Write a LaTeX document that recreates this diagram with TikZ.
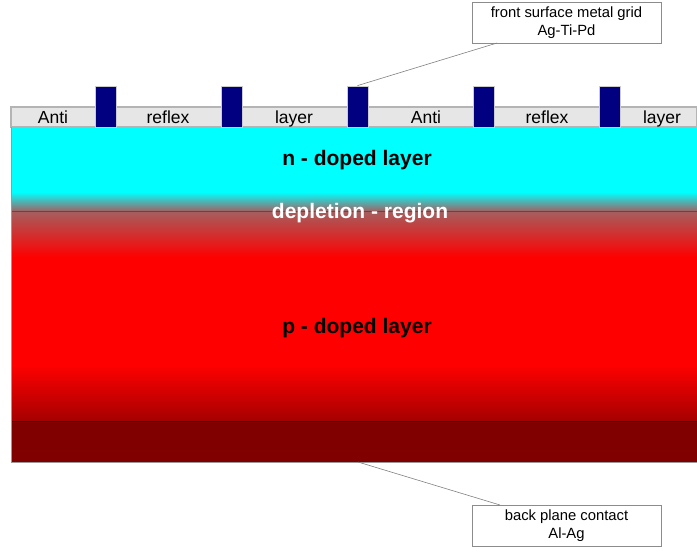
\documentclass[tikz,border=0pt]{standalone}
\usepackage{fontspec}
\setmainfont{Liberation Sans}
\usetikzlibrary{positioning}
\definecolor{gridblue}{RGB}{0,0,128}
\definecolor{arcgray}{RGB}{230,230,230}
\definecolor{edgegray}{RGB}{180,180,180}
\definecolor{ndope}{RGB}{0,255,255}
\definecolor{deplete}{RGB}{165,95,95}
\definecolor{pdope}{RGB}{255,0,0}
\definecolor{pdark}{RGB}{165,0,0}
\definecolor{backc}{RGB}{128,0,0}
\newcommand{\lbl}{\fontsize{17.5}{20}\selectfont}
\newcommand{\bigbold}{\fontsize{21}{24}\selectfont\bfseries}

\begin{document}
\begin{tikzpicture}[x=1pt,y=-1pt,
  callout/.style={draw=gray!90,fill=white,line width=0.6pt,minimum width=189pt,
    minimum height=41pt,inner sep=0pt,align=center,
    font=\fontsize{14.8}{18.5}\selectfont},
  gridbar/.style={draw=gray!40,fill=gridblue,line width=0.4pt,minimum width=21pt,
    minimum height=41pt,inner sep=0pt,anchor=south},
  layername/.style={font=\lbl,anchor=base,inner sep=0pt},
  leader/.style={draw=gray,line width=0.6pt}]
\useasboundingbox (0,0) rectangle (697,552);
%anti reflex layer
\draw[edgegray,fill=arcgray,line width=1.2pt] (11,107) rectangle (697,127);
\node[layername] (ar1) at ( 53,123) {Anti};
\node[layername] (ar2) at (168,123) {reflex};
\node[layername] (ar3) at (294,123) {layer};
\node[layername] (ar4) at (426,123) {Anti};
\node[layername] (ar5) at (547,123) {reflex};
\node[layername] (ar6) at (662,123) {layer};
%n doped layer and depletion region
\fill[ndope] (11,127) rectangle (697,192);
\shade[top color=ndope,bottom color=deplete] (11,192) rectangle (697,211.5);
\shade[top color=deplete,bottom color=pdope] (11,211) rectangle (697,257);
%p doped layer
\fill[pdope] (11,256.5) rectangle (697,365);
\shade[top color=pdope,bottom color=pdark] (11,364.5) rectangle (697,421);
%back plane
\fill[backc] (11,421) rectangle (697,462);
\draw[black!60!red!50!gray,line width=0.8pt] (11,211) -- (697,211);
\draw[black!70!backc,line width=0.6pt] (11,421) -- (697,421);
\draw[gray!80,line width=0.8pt] (11,127) -- (11,462) -- (697,462);
%metal grid
\foreach \i/\x in {1/105.5,2/231.5,3/357.5,4/483.5,5/609.5}
  \node[gridbar] (bar\i) at (\x,127) {};
%layer names
\node[font=\bigbold,anchor=base] (nlayer) at (357,165) {n - doped layer};
\node[font=\bigbold,anchor=base,text=white] (dep) at (360,218) {depletion - region};
\node[font=\bigbold,anchor=base] (player) at (357,333) {p - doped layer};
%callouts
\node[callout] (front) at (566.5,22.5) {front surface metal grid\\Ag-Ti-Pd};
\node[callout] (backpl) at (566.5,525.5) {back plane contact\\Al-Ag};
\coordinate (frontfoot) at (497,43);
\coordinate (backfoot) at (500,505);
\coordinate (backtop) at (358,462);
\draw[leader] (frontfoot) -- (bar3.north);
\draw[leader] (backtop) -- (backfoot);
\end{tikzpicture}
\end{document}
